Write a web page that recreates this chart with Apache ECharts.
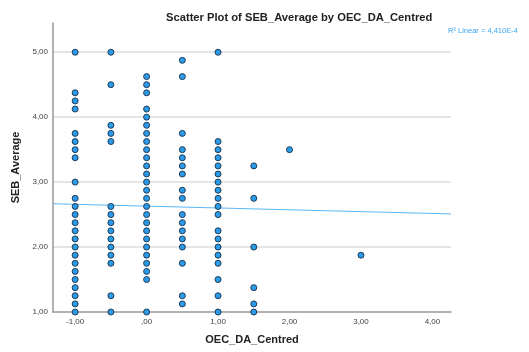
<!DOCTYPE html>
<html>
<head>
<meta charset="utf-8">
<script src="https://cdn.jsdelivr.net/npm/echarts@6/dist/echarts.min.js"></script>
<style>
  html, body { margin: 0; padding: 0; background: #fff; }
  #chart { width: 529px; height: 352px; }
</style>
</head>
<body>
<div id="chart"></div>
<script>
// x columns of OEC_DA_Centred and the SEB_Average values seen in each
const xColumns = [-1, -0.5, 0, 0.5, 1, 1.5, 2, 3];
const colMinus1 = [5, 4.375, 4.25, 4.125, 3.75, 3.625, 3.5, 3.375, 3.0, 2.75, 2.625, 2.5, 2.375, 2.25, 2.125, 2.0, 1.875, 1.75, 1.625, 1.5, 1.375, 1.25, 1.125, 1.0];
const colMinus05 = [5, 4.5, 3.875, 3.75, 3.625, 2.625, 2.5, 2.375, 2.25, 2.125, 2.0, 1.875, 1.75, 1.25, 1.0];
const colZero = [4.625, 4.5, 4.375, 4.125, 4.0, 3.875, 3.75, 3.625, 3.5, 3.375, 3.25, 3.125, 3.0, 2.875, 2.75, 2.625, 2.5, 2.375, 2.25, 2.125, 2.0, 1.875, 1.75, 1.625, 1.5, 1.0];
const colHalf = [4.875, 4.625, 3.75, 3.5, 3.375, 3.25, 3.125, 2.875, 2.75, 2.5, 2.375, 2.25, 2.125, 2.0, 1.75, 1.25, 1.125];
const colOne = [5.0, 3.625, 3.5, 3.375, 3.25, 3.125, 3.0, 2.875, 2.75, 2.625, 2.5, 2.25, 2.125, 2.0, 1.875, 1.75, 1.5, 1.25, 1.0];
const colOneHalf = [3.25, 2.75, 2.0, 1.375, 1.125, 1.0];
const colTwo = [3.5];
const colThree = [1.875];
const columnValues = [colMinus1, colMinus05, colZero, colHalf, colOne, colOneHalf, colTwo, colThree];

// fit line endpoints (read at the axis ends)
const fitX = [-1.31, 4.26];
const fitY = [2.667, 2.51];

const xTicks = [-1, 0, 1, 2, 3, 4];
const yTicks = [1, 2, 3, 4, 5];

// SPSS style number labels: 5,00  -1,00  ,00
const fmt = (v) => {
  let s = Math.abs(v).toFixed(2).replace(".", ",");
  if (Math.abs(v) < 1) s = s.replace(/^0/, "");
  return (v < 0 ? "-" : "") + s;
};

const points = [];
xColumns.forEach((x, i) => {
  columnValues[i].forEach((y) => points.push([x, y]));
});

const chart = echarts.init(document.getElementById("chart"));
const font = "'Liberation Sans', Arial, sans-serif";

const option = {
  animation: false,
  textStyle: { fontFamily: font },
  title: {
    text: "Scatter Plot of SEB_Average by OEC_DA_Centred",
    left: 161,
    top: 7,
    textStyle: { fontSize: 11.2, fontWeight: "bold", color: "#222", fontFamily: font },
  },
  graphic: [
    {
      type: "text",
      left: 448,
      top: 27,
      style: { text: "R² Linear = 4,410E-4", fontSize: 7.5, fill: "#3aa7f0", fontFamily: font },
    },
  ],
  grid: { left: 53, right: 78, top: 23, bottom: 40 },
  xAxis: {
    type: "value",
    min: -1.31,
    max: 4.26,
    name: "OEC_DA_Centred",
    nameLocation: "middle",
    nameGap: 22,
    nameTextStyle: { fontSize: 11, fontWeight: "bold", color: "#222" },
    axisLine: { show: true, onZero: false, lineStyle: { color: "#999", width: 1.5 } },
    axisTick: { show: false },
    splitLine: { show: false },
    axisLabel: {
      customValues: xTicks,
      formatter: fmt,
      fontSize: 8,
      color: "#444",
      margin: 6,
    },
  },
  yAxis: {
    type: "value",
    min: 1,
    max: 5.45,
    name: "SEB_Average",
    nameLocation: "middle",
    nameGap: 30,
    nameTextStyle: { fontSize: 11, fontWeight: "bold", color: "#222" },
    axisLine: { show: true, onZero: false, lineStyle: { color: "#999", width: 1.5 } },
    axisTick: { show: false },
    splitLine: { show: false },
    axisLabel: {
      customValues: yTicks,
      formatter: fmt,
      fontSize: 8,
      color: "#444",
      margin: 5,
    },
  },
  series: [
    {
      type: "line",
      data: [],
      silent: true,
      z: 0,
      markLine: {
        symbol: "none",
        silent: true,
        z: 0,
        label: { show: false },
        lineStyle: { color: "#dcdcdc", width: 1.5, type: "solid" },
        data: yTicks.slice(1).map((v) => ({ yAxis: v })),
      },
    },
    {
      type: "line",
      data: [[fitX[0], fitY[0]], [fitX[1], fitY[1]]],
      showSymbol: false,
      lineStyle: { color: "#5ab8f5", width: 1 },
      z: 3,
    },
    {
      type: "scatter",
      data: points,
      symbolSize: 6,
      itemStyle: { color: "#2b9be8", borderColor: "#1d3b57", borderWidth: 1, opacity: 1 },
      z: 4,
    },
  ],
};

chart.setOption(option);
</script>
</body>
</html>
